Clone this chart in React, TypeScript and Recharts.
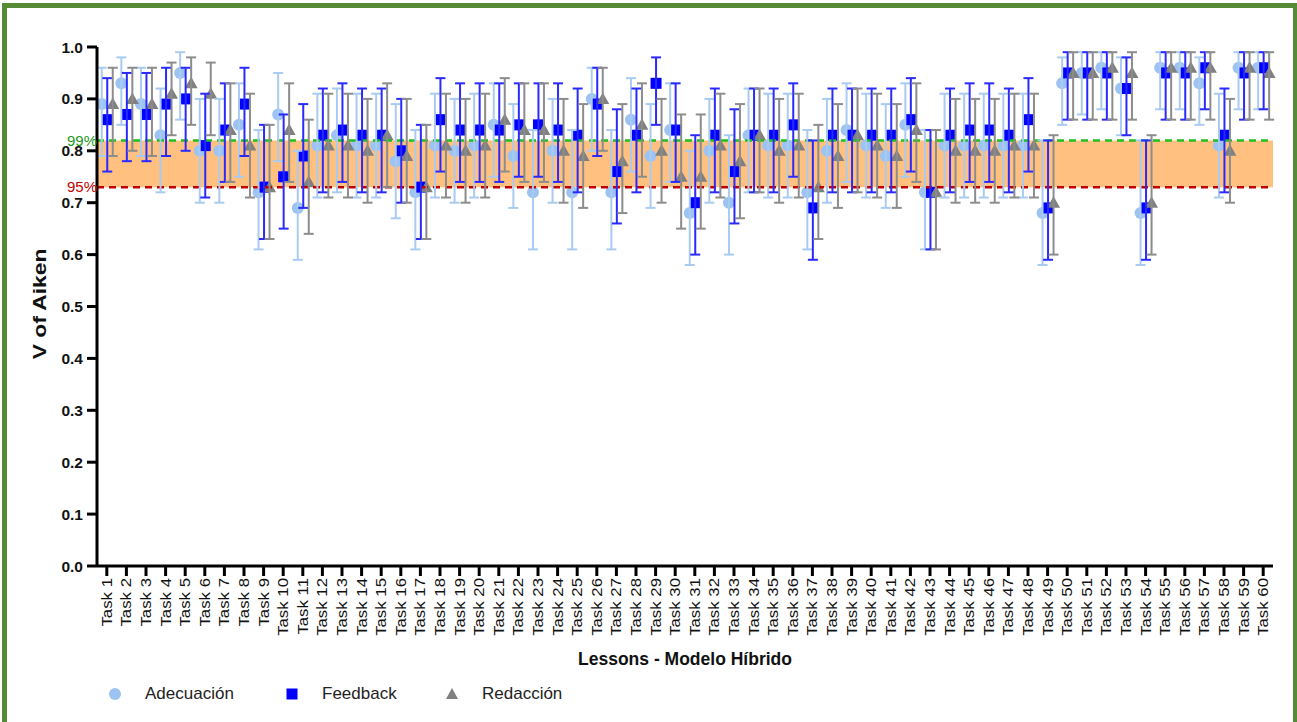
import {
  Bar,
  ComposedChart,
  ErrorBar,
  ReferenceArea,
  ReferenceLine,
  XAxis,
  YAxis,
} from "recharts";

const FONT = "Arial, 'Liberation Sans', Helvetica, sans-serif";

const TASKS = Array.from({ length: 60 }, (_, i) => `Task ${i + 1}`);

// Adecuación: value, lower and upper limit
const ADECUACION = [
  0.89, 0.93, 0.89, 0.83, 0.95, 0.8, 0.8, 0.85, 0.72, 0.87,
  0.69, 0.81, 0.83, 0.81, 0.81, 0.78, 0.72, 0.81, 0.8, 0.81,
  0.85, 0.79, 0.72, 0.8, 0.72, 0.9, 0.72, 0.86, 0.79, 0.84,
  0.68, 0.8, 0.7, 0.83, 0.81, 0.81, 0.72, 0.8, 0.84, 0.81,
  0.79, 0.85, 0.72, 0.81, 0.81, 0.81, 0.81, 0.81, 0.68, 0.93,
  0.95, 0.96, 0.92, 0.68, 0.96, 0.96, 0.93, 0.81, 0.96, 0.96,
];
const ADECUACION_LOW = [
  0.79, 0.85, 0.79, 0.72, 0.86, 0.7, 0.7, 0.75, 0.61, 0.78,
  0.59, 0.71, 0.72, 0.71, 0.71, 0.67, 0.61, 0.71, 0.7, 0.71,
  0.75, 0.69, 0.61, 0.7, 0.61, 0.8, 0.61, 0.76, 0.69, 0.74,
  0.58, 0.7, 0.6, 0.72, 0.71, 0.71, 0.61, 0.7, 0.74, 0.71,
  0.69, 0.75, 0.61, 0.71, 0.71, 0.71, 0.71, 0.71, 0.58, 0.85,
  0.87, 0.88, 0.83, 0.58, 0.88, 0.88, 0.85, 0.71, 0.88, 0.88,
];
const ADECUACION_HIGH = [
  0.96, 0.98, 0.96, 0.92, 0.99, 0.9, 0.9, 0.93, 0.84, 0.95,
  0.8, 0.91, 0.92, 0.91, 0.91, 0.89, 0.84, 0.91, 0.9, 0.91,
  0.93, 0.89, 0.84, 0.9, 0.84, 0.96, 0.84, 0.94, 0.89, 0.93,
  0.8, 0.9, 0.83, 0.92, 0.91, 0.91, 0.84, 0.9, 0.93, 0.91,
  0.89, 0.93, 0.84, 0.91, 0.91, 0.91, 0.91, 0.91, 0.82, 0.98,
  0.99, 0.99, 0.98, 0.82, 0.99, 0.99, 0.98, 0.91, 0.99, 0.99,
];

// Feedback
const FEEDBACK = [
  0.86, 0.87, 0.87, 0.89, 0.9, 0.81, 0.84, 0.89, 0.73, 0.75,
  0.79, 0.83, 0.84, 0.83, 0.83, 0.8, 0.73, 0.86, 0.84, 0.84,
  0.84, 0.85, 0.85, 0.84, 0.83, 0.89, 0.76, 0.83, 0.93, 0.84,
  0.7, 0.83, 0.76, 0.83, 0.83, 0.85, 0.69, 0.83, 0.83, 0.83,
  0.83, 0.86, 0.72, 0.83, 0.84, 0.84, 0.83, 0.86, 0.69, 0.95,
  0.95, 0.95, 0.92, 0.69, 0.95, 0.95, 0.96, 0.83, 0.95, 0.96,
];
const FEEDBACK_LOW = [
  0.76, 0.78, 0.78, 0.79, 0.8, 0.71, 0.74, 0.79, 0.63, 0.65,
  0.69, 0.72, 0.74, 0.72, 0.72, 0.7, 0.63, 0.76, 0.74, 0.74,
  0.74, 0.75, 0.75, 0.74, 0.72, 0.79, 0.66, 0.72, 0.85, 0.74,
  0.6, 0.72, 0.66, 0.72, 0.72, 0.75, 0.59, 0.72, 0.72, 0.72,
  0.72, 0.76, 0.61, 0.72, 0.74, 0.74, 0.72, 0.76, 0.59, 0.86,
  0.86, 0.86, 0.83, 0.59, 0.86, 0.86, 0.88, 0.72, 0.86, 0.88,
];
const FEEDBACK_HIGH = [
  0.94, 0.95, 0.95, 0.96, 0.96, 0.91, 0.93, 0.96, 0.85, 0.87,
  0.89, 0.92, 0.93, 0.92, 0.92, 0.9, 0.85, 0.94, 0.93, 0.93,
  0.93, 0.93, 0.93, 0.93, 0.92, 0.96, 0.88, 0.92, 0.98, 0.93,
  0.83, 0.92, 0.88, 0.92, 0.92, 0.93, 0.82, 0.92, 0.92, 0.92,
  0.92, 0.94, 0.84, 0.92, 0.93, 0.93, 0.92, 0.94, 0.82, 0.99,
  0.99, 0.99, 0.98, 0.82, 0.99, 0.99, 0.99, 0.92, 0.99, 0.99,
];

// Redacción
const REDACCION = [
  0.89, 0.9, 0.89, 0.91, 0.93, 0.91, 0.84, 0.81, 0.73, 0.84,
  0.74, 0.81, 0.81, 0.8, 0.83, 0.79, 0.73, 0.81, 0.8, 0.81,
  0.86, 0.84, 0.84, 0.8, 0.79, 0.9, 0.78, 0.85, 0.8, 0.75,
  0.75, 0.81, 0.78, 0.83, 0.8, 0.81, 0.73, 0.79, 0.83, 0.81,
  0.79, 0.84, 0.72, 0.8, 0.8, 0.8, 0.81, 0.81, 0.7, 0.95,
  0.95, 0.96, 0.95, 0.7, 0.96, 0.96, 0.96, 0.8, 0.96, 0.95,
];
const REDACCION_LOW = [
  0.79, 0.8, 0.79, 0.83, 0.85, 0.83, 0.74, 0.71, 0.63, 0.74,
  0.64, 0.71, 0.71, 0.7, 0.73, 0.7, 0.63, 0.71, 0.7, 0.71,
  0.76, 0.74, 0.74, 0.7, 0.69, 0.8, 0.68, 0.75, 0.7, 0.65,
  0.65, 0.71, 0.67, 0.72, 0.7, 0.71, 0.63, 0.69, 0.72, 0.71,
  0.69, 0.74, 0.61, 0.7, 0.7, 0.7, 0.71, 0.71, 0.6, 0.86,
  0.86, 0.86, 0.86, 0.6, 0.86, 0.86, 0.86, 0.7, 0.86, 0.86,
];
const REDACCION_HIGH = [
  0.96, 0.96, 0.96, 0.97, 0.98, 0.97, 0.93, 0.91, 0.85, 0.93,
  0.86, 0.91, 0.91, 0.9, 0.93, 0.9, 0.85, 0.91, 0.9, 0.91,
  0.94, 0.93, 0.93, 0.9, 0.89, 0.96, 0.89, 0.93, 0.9, 0.87,
  0.87, 0.91, 0.89, 0.92, 0.9, 0.91, 0.85, 0.89, 0.92, 0.91,
  0.89, 0.93, 0.84, 0.9, 0.9, 0.9, 0.91, 0.91, 0.83, 0.99,
  0.99, 0.99, 0.99, 0.83, 0.99, 0.99, 0.99, 0.9, 0.99, 0.99,
];

const Y_TICKS = [0, 0.1, 0.2, 0.3, 0.4, 0.5, 0.6, 0.7, 0.8, 0.9, 1.0];
const LIMIT_95 = 0.73;
const LIMIT_99 = 0.82;

const COLORS = {
  adecuacion: "#9cc3f2",
  adecuacionBar: "#a9cbf2",
  feedback: "#0000ff",
  feedbackBar: "#2a2aff",
  redaccion: "#808080",
  redaccionBar: "#8c8c8c",
};

const err = (v: number, lo: number, hi: number) => [v - lo, hi - v];

const data = TASKS.map((task, i) => ({
  task,
  adecuacion: ADECUACION[i],
  adecuacionErr: err(ADECUACION[i], ADECUACION_LOW[i], ADECUACION_HIGH[i]),
  feedback: FEEDBACK[i],
  feedbackErr: err(FEEDBACK[i], FEEDBACK_LOW[i], FEEDBACK_HIGH[i]),
  redaccion: REDACCION[i],
  redaccionErr: err(REDACCION[i], REDACCION_LOW[i], REDACCION_HIGH[i]),
}));

// markers sit at the top of an invisible bar
function CircleMark(props: any) {
  const { x, y, width } = props;
  return <circle cx={x + width / 2} cy={y} r={6} fill={COLORS.adecuacion} />;
}

function SquareMark(props: any) {
  const { x, y, width } = props;
  const cx = x + width / 2;
  return <rect x={cx - 5.5} y={y - 5.5} width={11} height={11} fill={COLORS.feedback} />;
}

function TriangleMark(props: any) {
  const { x, y, width } = props;
  const cx = x + width / 2;
  return (
    <polygon
      points={`${cx},${y - 6.5} ${cx - 6.5},${y + 5} ${cx + 6.5},${y + 5}`}
      fill={COLORS.redaccion}
    />
  );
}

function TaskTick(props: any) {
  const { x, y, payload } = props;
  return (
    <g transform={`translate(${x},${y})`}>
      <text
        transform="rotate(-90) scale(1.2,1)"
        textAnchor="end"
        dominantBaseline="central"
        fontSize={14}
        fontFamily={FONT}
        fill="#111"
      >
        {payload.value}
      </text>
    </g>
  );
}

function LegendItem({ mark, label, left }: { mark: React.ReactNode; label: string; left: number }) {
  return (
    <div style={{ position: "absolute", left, top: 684, display: "flex", alignItems: "center" }}>
      <svg width={20} height={20} style={{ marginRight: 20 }}>
        {mark}
      </svg>
      <span style={{ fontSize: 17, color: "#222" }}>{label}</span>
    </div>
  );
}

export default function App() {
  return (
    <div
      style={{
        position: "absolute",
        left: 0,
        top: 0,
        width: 1297,
        height: 722,
        background: "#fff",
        overflow: "hidden",
        fontFamily: FONT,
      }}
    >
      {/* green frame */}
      <div
        style={{
          position: "absolute",
          left: 2,
          top: 3,
          width: 1286,
          height: 740,
          border: "5px solid #558b35",
        }}
      />

      <div style={{ position: "absolute", left: 0, top: 0 }}>
        <ComposedChart
          width={1297}
          height={722}
          data={data}
          margin={{ top: 47, right: 24, bottom: 0, left: 0 }}
          barGap={0}
        >
          <ReferenceArea y1={LIMIT_95} y2={LIMIT_99} fill="#ffc080" fillOpacity={1} stroke="none" />
          <ReferenceLine
            y={LIMIT_99}
            stroke="#1fbf1f"
            strokeWidth={2.5}
            strokeDasharray="7 5"
            label={{ value: "99%", position: "left", offset: 0, fill: "#1a9a1a", fontSize: 15, fontFamily: FONT }}
          />
          <ReferenceLine
            y={LIMIT_95}
            stroke="#c00000"
            strokeWidth={2.5}
            strokeDasharray="7 5"
            label={{ value: "95%", position: "left", offset: 0, fill: "#c00000", fontSize: 15, fontFamily: FONT }}
          />
          <XAxis
            dataKey="task"
            interval={0}
            height={156}
            tick={<TaskTick />}
            tickSize={10}
            tickMargin={2}
            axisLine={{ stroke: "#000", strokeWidth: 3 }}
            tickLine={{ stroke: "#000", strokeWidth: 3 }}
          />
          <YAxis
            width={97}
            domain={[0, 1]}
            ticks={Y_TICKS}
            tickFormatter={(v: number) => v.toFixed(1)}
            tickSize={10}
            tickMargin={4}
            tick={{ fontSize: 15.5, fontWeight: 700, fill: "#111", fontFamily: FONT }}
            axisLine={{ stroke: "#000", strokeWidth: 3 }}
            tickLine={{ stroke: "#000", strokeWidth: 3 }}
          />
          <Bar
            dataKey="adecuacion"
            barSize={5.5}
            fill="transparent"
            shape={<CircleMark />}
            isAnimationActive={false}
          >
            <ErrorBar dataKey="adecuacionErr" width={5} stroke={COLORS.adecuacionBar} strokeWidth={2} />
          </Bar>
          <Bar
            dataKey="feedback"
            barSize={5.5}
            fill="transparent"
            shape={<SquareMark />}
            isAnimationActive={false}
          >
            <ErrorBar dataKey="feedbackErr" width={5} stroke={COLORS.feedbackBar} strokeWidth={2} />
          </Bar>
          <Bar
            dataKey="redaccion"
            barSize={5.5}
            fill="transparent"
            shape={<TriangleMark />}
            isAnimationActive={false}
          >
            <ErrorBar dataKey="redaccionErr" width={5} stroke={COLORS.redaccionBar} strokeWidth={2} />
          </Bar>
        </ComposedChart>
      </div>

      {/* y axis title */}
      <div
        style={{
          position: "absolute",
          left: 40,
          top: 304,
          transform: "translate(-50%, -50%) rotate(-90deg) scaleX(1.2)",
          fontSize: 19,
          fontWeight: 700,
          whiteSpace: "nowrap",
          color: "#111",
        }}
      >
        V of Aiken
      </div>

      {/* x axis title */}
      <div
        style={{
          position: "absolute",
          left: 685,
          top: 659,
          transform: "translate(-50%, -50%)",
          fontSize: 17.5,
          fontWeight: 700,
          whiteSpace: "nowrap",
          color: "#111",
        }}
      >
        Lessons - Modelo Híbrido
      </div>

      <LegendItem left={105} label="Adecuación" mark={<circle cx={10} cy={10} r={6} fill={COLORS.adecuacion} />} />
      <LegendItem
        left={282}
        label="Feedback"
        mark={<rect x={4.5} y={4.5} width={11} height={11} fill={COLORS.feedback} />}
      />
      <LegendItem
        left={442}
        label="Redacción"
        mark={<polygon points="10,4 4,15 16,15" fill={COLORS.redaccion} />}
      />
    </div>
  );
}
